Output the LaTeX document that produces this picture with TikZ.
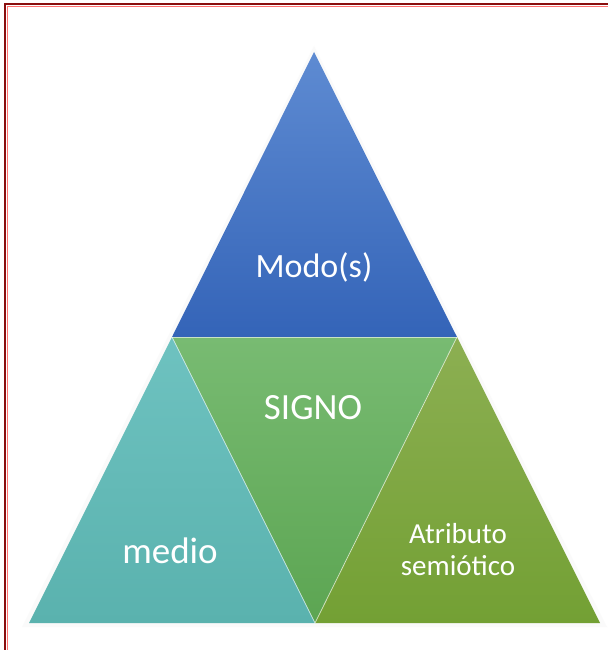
\documentclass[tikz,border=0pt]{standalone}
\usepackage{fontspec}
\setmainfont{Carlito}
\definecolor{framered}{HTML}{8A0E0E}
\definecolor{blueTop}{HTML}{5E8BD2}
\definecolor{blueBot}{HTML}{3464B8}
\definecolor{greenTop}{HTML}{78BB72}
\definecolor{greenBot}{HTML}{5CA552}
\definecolor{tealTop}{HTML}{6EC2C0}
\definecolor{tealBot}{HTML}{5AB2AE}
\definecolor{oliveTop}{HTML}{8CAF52}
\definecolor{oliveBot}{HTML}{73A034}
\tikzset{
  lbl/.style={text=white, anchor=base, inner sep=0pt, align=center},
  sep/.style={draw=white, line width=0.8pt, draw opacity=0.6}
}
\begin{document}
\begin{tikzpicture}[x=1pt,y=-1pt]
\useasboundingbox (0,0) rectangle (608,650);
\fill[white] (0,0) rectangle (608,650);
% frame (open at right and bottom)
\draw[framered, line width=2.6pt] (5,650) -- (5,4) -- (608,4);
\draw[red!55!white, line width=0.6pt] (7,650) -- (7,6) -- (608,6);
% corner coordinates
\coordinate (apex) at (314,52);
\coordinate (ml) at (172,337);
\coordinate (mr) at (457,337);
\coordinate (bl) at (29,623);
\coordinate (bm) at (315,623);
\coordinate (br) at (600,623);
% soft glow
\fill[white!93!gray, opacity=0.5] ([shift={(0,-6)}]apex) -- ([shift={(-7,4)}]bl) -- ([shift={(7,4)}]br) -- cycle;
% triangles
\shade[top color=blueTop, bottom color=blueBot] (apex) -- (ml) -- (mr) -- cycle;
\shade[top color=greenTop, bottom color=greenBot] (ml) -- (mr) -- (bm) -- cycle;
\shade[top color=tealTop, bottom color=tealBot] (ml) -- (bl) -- (bm) -- cycle;
\shade[top color=oliveTop, bottom color=oliveBot] (mr) -- (bm) -- (br) -- cycle;
% separators
\draw[sep] (ml) -- (mr);
\draw[sep] (ml) -- (bm) -- (mr);
% labels
\node[lbl, font=\fontsize{34}{40}\selectfont] (modos) at (314,277) {Modo(s)};
\node[lbl, font=\fontsize{37}{44}\selectfont] (signo) at (313,419) {SIGNO};
\node[lbl, font=\fontsize{37}{44}\selectfont] (medio) at (170,563) {medio};
\node[lbl, font=\fontsize{29}{32}\selectfont] (atr) at (458,543) {Atributo};
\node[lbl, font=\fontsize{29}{32}\selectfont] (sem) at (458,575) {semiótico};
\end{tikzpicture}
\end{document}
